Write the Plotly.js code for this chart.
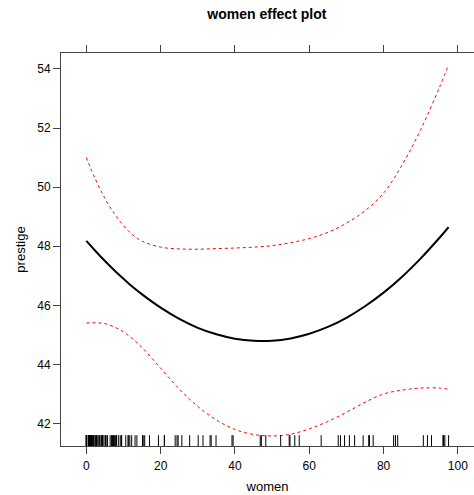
<!DOCTYPE html>
<html>
<head>
<meta charset="utf-8">
<script src="https://cdn.plot.ly/plotly-3.0.1.min.js"></script>
<style>html,body{margin:0;padding:0;background:#fff;overflow:hidden}</style>
</head>
<body>
<div id="chart" style="width:474px;height:495px"></div>
<script>
// women values at which the effect was evaluated
const womenGrid = [0, 2.5, 5, 7.5, 10, 12.5, 15, 20, 25, 30, 35, 40, 45, 50, 55, 60, 65, 70, 75, 80, 85, 90, 95, 97.5];
// fitted prestige
const fitPrestige = [48.18, 47.83, 47.50, 47.19, 46.90, 46.62, 46.37, 45.92, 45.54, 45.24, 45.02, 44.87, 44.80, 44.80, 44.88, 45.04, 45.27, 45.58, 45.97, 46.43, 46.97, 47.59, 48.28, 48.65];
// upper confidence limit
const upperPrestige = [51.00, 50.25, 49.62, 49.11, 48.70, 48.38, 48.17, 47.97, 47.91, 47.90, 47.92, 47.94, 47.97, 48.02, 48.12, 48.26, 48.47, 48.78, 49.20, 49.80, 50.75, 51.95, 53.36, 54.14];
// lower confidence limit
const lowerPrestige = [45.40, 45.41, 45.38, 45.27, 45.10, 44.86, 44.57, 43.87, 43.17, 42.58, 42.12, 41.80, 41.63, 41.58, 41.64, 41.82, 42.07, 42.38, 42.72, 43.00, 43.13, 43.20, 43.20, 43.16];
// observed women values (rug)
const womenObs = [0, 0, 0, 0, 0, 0, 0.5, 0.5, 0.6, 0.6, 0.7, 0.8, 0.8, 0.9, 0.9, 1.0, 1.1, 1.3, 1.4, 1.5, 1.5, 1.7, 1.9, 2.0, 2.3, 2.5, 2.7, 2.7, 2.9, 3.2, 3.6, 3.6, 4.0, 4.1, 4.3, 4.3, 4.7, 5.1, 5.1, 5.2, 5.3, 5.7, 6.4, 6.8, 6.9, 7.0, 7.3, 7.6, 7.8, 8.1, 8.6, 9.1, 9.4, 9.5, 10.6, 11.2, 11.4, 11.7, 12.2, 13.1, 13.6, 15.1, 15.3, 15.7, 17.0, 19.4, 21.0, 21.0, 23.9, 24.4, 24.7, 25.7, 27.8, 30.1, 31.4, 33.3, 33.6, 34.9, 39.2, 39.5, 46.8, 47.1, 48.3, 52.3, 54.6, 54.8, 56.1, 57.3, 63.2, 67.8, 68.4, 69.5, 70.8, 72.2, 74.5, 76.0, 76.2, 77.2, 82.7, 83.2, 83.8, 90.7, 91.8, 92.9, 96.0, 96.1, 96.2, 96.5, 97.5];
const xTicks = [0, 20, 40, 60, 80, 100];
const yTicks = [42, 44, 46, 48, 50, 52, 54];

const plotH = 495 - 53 - 49;
const traces = [
  {x: womenGrid, y: upperPrestige, mode: 'lines', line: {color: '#ff0000', width: 1, dash: '3px,3px', shape: 'spline', smoothing: 1}, hoverinfo: 'skip'},
  {x: womenGrid, y: lowerPrestige, mode: 'lines', line: {color: '#ff0000', width: 1, dash: '3px,3px', shape: 'spline', smoothing: 1}, hoverinfo: 'skip'},
  {x: womenGrid, y: fitPrestige, mode: 'lines', line: {color: '#000000', width: 2, shape: 'spline', smoothing: 1}, hoverinfo: 'skip'},
  {x: womenObs, y: womenObs.map(() => 4.5), yaxis: 'y2', mode: 'markers',
   marker: {symbol: 'line-ns', size: 9, line: {color: '#000', width: 1}}, hoverinfo: 'skip'}
];
const layout = {
  width: 474, height: 495,
  margin: {l: 61, r: 0, t: 53, b: 49},
  showlegend: false,
  paper_bgcolor: '#fff', plot_bgcolor: '#fff',
  font: {family: 'Liberation Sans, Arial, sans-serif', color: '#000', size: 12},
  title: {text: '<b>women effect plot</b>', x: 0.563, xanchor: 'center', y: 0.972, yanchor: 'middle', font: {size: 14, color: '#000'}},
  xaxis: {
    range: [-6.83, 104.34], tickvals: xTicks, ticktext: xTicks.map(String),
    ticks: 'outside', ticklen: 7, tickcolor: '#444', tickwidth: 1,
    showline: true, linecolor: '#444', linewidth: 1, mirror: 'ticks',
    showgrid: false, zeroline: false, tickfont: {size: 12}, ticklabelstandoff: 2,
    title: {text: 'women', font: {size: 13}, standoff: 9}
  },
  yaxis: {
    range: [41.24, 54.54], tickvals: yTicks, ticktext: yTicks.map(String),
    ticks: 'outside', ticklen: 7, tickcolor: '#444', tickwidth: 1,
    showline: true, linecolor: '#444', linewidth: 1, mirror: false,
    showgrid: false, zeroline: false, tickfont: {size: 12},
    title: {text: 'prestige', font: {size: 13}, standoff: 8}
  },
  yaxis2: {overlaying: 'y', range: [0, plotH], visible: false, fixedrange: true}
};
Plotly.newPlot('chart', traces, layout, {staticPlot: true, displayModeBar: false});
</script>
</body>
</html>
